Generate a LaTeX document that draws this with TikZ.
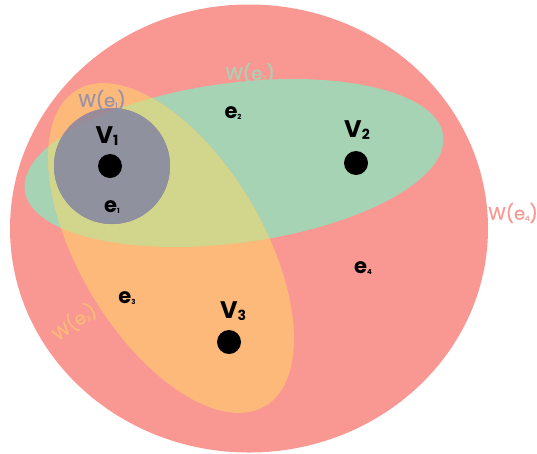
\documentclass[tikz,border=0pt]{standalone}
\usepackage{fontspec}
\setmainfont{Poppins}
\newfontfamily\wfont[FakeBold=0.7]{Poppins}

\definecolor{hred}{HTML}{F99893}
\definecolor{hgreen}{HTML}{A6D3B3}
\definecolor{horange}{HTML}{FDB97A}
\definecolor{hyellow}{HTML}{D2D58C}
\definecolor{hgray}{HTML}{8F929E}
\definecolor{hmauve}{HTML}{9A8B9B}
\definecolor{hlav}{HTML}{9792AA}

% label with a lowered subscript: {main}{sub}{sub size}{drop}
\newcommand\hsub[4]{#1{\raisebox{-#4}{\fontsize{#3}{#3}\selectfont #2}}}

\newcommand\redshape{(249,228.5) ellipse [x radius=239pt, y radius=224pt]}
\newcommand\greenshape{(234,163) ellipse [x radius=211pt, y radius=80pt, rotate=7.5]}
\newcommand\orangeshape{(171,248) ellipse [x radius=184pt, y radius=92pt, rotate=-59.2]}
\newcommand\grayshape{(112,166) circle [radius=58pt]}

\begin{document}
\begin{tikzpicture}[x=1pt,y=-1pt,
  dot/.style={circle, fill=black, inner sep=0pt, minimum size=24pt},
  vlabel/.style={font=\fontsize{24}{24}\selectfont\bfseries, text=black, inner sep=0pt},
  elabel/.style={font=\fontsize{21}{21}\selectfont\bfseries, text=black, inner sep=0pt},
  wlabel/.style={font=\wfont\fontsize{18}{18}\selectfont, inner sep=0pt}]
  \useasboundingbox (0,0) rectangle (537,453);

  % hyperedge regions
  \fill[hred] \redshape;
  \fill[hgreen] \greenshape;
  \fill[horange] \orangeshape;
  \begin{scope}
    \clip \orangeshape;
    \fill[hyellow] \greenshape;
  \end{scope}
  \fill[hgray] \grayshape;
  \begin{scope}
    \clip \grayshape;
    \fill[hmauve] \orangeshape;
    \fill[hgray] \greenshape;
  \end{scope}

  % region labels
  \node[wlabel, text=hlav] (w1) at (102,100) {W(\hsub{e}{1}{7pt}{1pt})};
  \node[wlabel, text=hgreen] (w2) at (250,73) {W(\hsub{e}{2}{7pt}{1pt})};
  \node[wlabel, text=horange, rotate=35] (w3) at (74,322) {W(\hsub{e}{3}{7pt}{1pt})};
  \node[wlabel, text=hred] (w4) at (513,213) {W(\hsub{e}{4}{7pt}{1pt})};

  \node[elabel] (e1) at (112,207) {\hsub{e}{1}{7pt}{1pt}};
  \node[elabel] (e2) at (233,113) {\hsub{e}{2}{7pt}{1pt}};
  \node[elabel] (e3) at (127,298) {\hsub{e}{3}{7pt}{1pt}};
  \node[elabel] (e4) at (363,268) {\hsub{e}{4}{7pt}{1pt}};

  % vertices
  \node[dot] (v1) at (110,166) {};
  \node[dot] (v2) at (356,163) {};
  \node[dot] (v3) at (229,342) {};
  \node[vlabel] (l1) at (107,136) {\hsub{V}{1}{14pt}{2pt}};
  \node[vlabel] (l2) at (357,130) {\hsub{V}{2}{14pt}{2pt}};
  \node[vlabel] (l3) at (233,311) {\hsub{V}{3}{14pt}{2pt}};
\end{tikzpicture}
\end{document}
